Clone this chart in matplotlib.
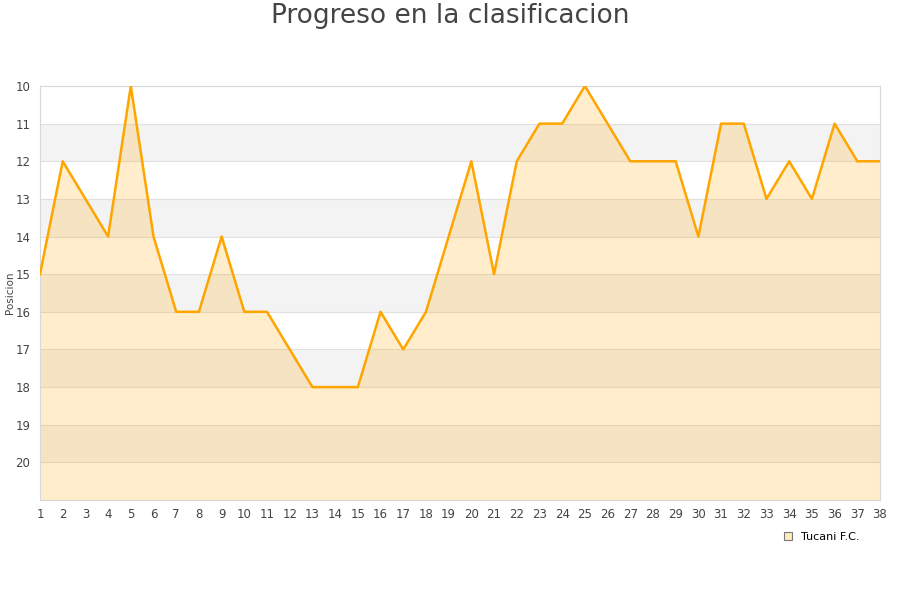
import matplotlib
matplotlib.use("Agg")
import matplotlib.pyplot as plt
from matplotlib.patches import Patch

rounds = list(range(1, 39))
positions = [15, 12, 13, 14, 10, 14, 16, 16, 14, 16, 16, 17, 18, 18, 18, 16, 17, 16, 14, 12,
             15, 12, 11, 11, 10, 11, 12, 12, 12, 14, 11, 11, 13, 12, 13, 11, 12, 12]
team = "Tucani F.C."
title = "Progreso en la clasificacion"
ylabel = "Posicion"
yticks = list(range(10, 21))

plt.rcParams['font.family'] = ['DejaVu Sans']
fig = plt.figure(figsize=(9, 6), dpi=100)
ax = fig.add_axes([40/900, 1-500/600, 840/900, 414/600])

ax.set_xlim(1, 38)
ax.set_ylim(21, 10)

# alternating bands
for y in range(10, 21):
    if y % 2 == 1:
        ax.axhspan(y, y+1, color='#F3F3F3', zorder=0, lw=0)
for y in range(11, 21):
    ax.axhline(y, color='#E0E0E0', lw=0.8, zorder=1)

ax.fill_between(rounds, positions, 21, color='#FFA500', alpha=0.2, lw=0, zorder=2)
ax.plot(rounds, positions, color='#FFA500', lw=1.8, zorder=3)

ax.set_xticks(rounds)
ax.set_yticks(yticks)
ax.tick_params(axis='both', length=0, labelsize=8.5, colors='#444444', pad=6)
ax.tick_params(axis='y', pad=7)
for s in ['top', 'right', 'bottom', 'left']:
    ax.spines[s].set_color('#D8D8D8')
    ax.spines[s].set_linewidth(0.8)

ax.set_ylabel(ylabel, fontsize=7.5, color='#444444')
ax.yaxis.set_label_coords(-25/840, 0.5)
fig.text(0.5, 1-16/600, title, fontsize=19, color='#444444', ha='center', va='center')

handle = Patch(facecolor='#FFE9BF', edgecolor='#777777', lw=0.8)
fig.legend([handle], [team], loc='center', bbox_to_anchor=(822/900, 1-537/600),
           frameon=False, fontsize=8, handlelength=0.7, handleheight=0.7, handletextpad=0.8)

fig.savefig("out.png", dpi=100)
